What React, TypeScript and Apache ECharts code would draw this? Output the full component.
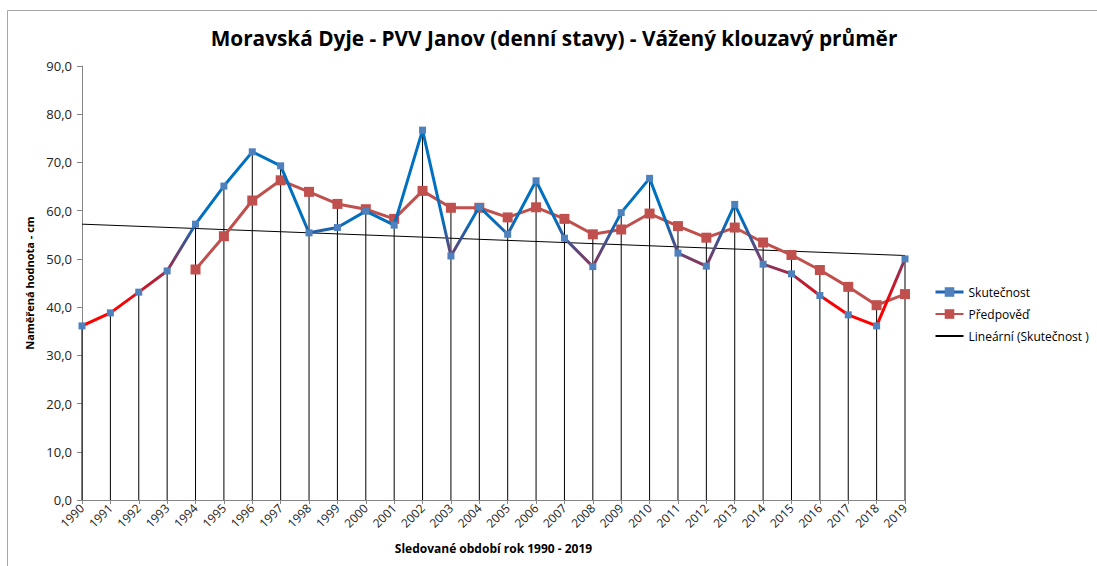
import React, { useEffect, useRef } from "react";
import * as echarts from "echarts";

const years = ["1990","1991","1992","1993","1994","1995","1996","1997","1998","1999","2000","2001","2002","2003","2004","2005","2006","2007","2008","2009","2010","2011","2012","2013","2014","2015","2016","2017","2018","2019"];
const actual = [36.1,38.8,43.1,47.5,57.2,65.1,72.2,69.3,55.4,56.5,59.9,57.0,76.7,50.6,60.8,55.1,66.2,54.3,48.4,59.6,66.7,51.2,48.5,61.3,48.9,46.9,42.4,38.4,36.1,50.0];
const forecast: (number | null)[] = [null,null,null,null,47.8,54.7,62.1,66.3,63.9,61.4,60.3,58.3,64.1,60.6,60.6,58.6,60.7,58.3,55.1,56.1,59.4,56.8,54.4,56.5,53.4,50.8,47.7,44.2,40.4,42.7];
const trendEnds = [57.2, 50.7];
const yTicks = { min: 0, max: 90, interval: 10 };

export default function App() {
  const ref = useRef<HTMLDivElement>(null);
  useEffect(() => {
    if (!ref.current) return;
    const chart = echarts.init(ref.current, null, { renderer: "svg" });
    const trend = years.map((_, i) => (i === 0 ? trendEnds[0] : i === years.length - 1 ? trendEnds[1] : null));
    const drops = years.map((_, i) => Math.max(actual[i], forecast[i] ?? -Infinity));
    const font = "Open Sans";
    chart.setOption({
      animation: false,
      textStyle: { fontFamily: font },
      graphic: [
        { type: "rect", shape: { x: 7.5, y: 10.5, width: 1200, height: 600 }, style: { fill: "none", stroke: "#a6a6a6", lineWidth: 1 }, silent: true },
        { type: "text", x: 554, y: 38, style: { text: "Moravská Dyje - PVV Janov (denní stavy) - Vážený klouzavý průměr", fontFamily: font, fontWeight: "bold", fontSize: 20.8, fill: "#000", textAlign: "center", textVerticalAlign: "middle" } },
      ],
      grid: { left: 82, right: 192, top: 66, bottom: 66 },
      legend: {
        orient: "vertical",
        left: 929,
        top: 281,
        itemGap: 10,
        itemWidth: 28,
        itemHeight: 12,
        textStyle: { fontFamily: font, fontSize: 12, color: "#000" },
        data: [
          { name: "Skutečnost", lineStyle: { color: "#1f64b4", width: 3 }, itemStyle: { color: "#4f81bd" } },
          { name: "Předpověď" },
          { name: "Lineární (Skutečnost )", itemStyle: { opacity: 0 } },
        ],
      },
      xAxis: {
        type: "category",
        data: years,
        boundaryGap: false,
        name: "Sledované období rok 1990 - 2019",
        nameLocation: "middle",
        nameGap: 42,
        nameTextStyle: { fontFamily: font, fontWeight: "bold", fontSize: 12, color: "#000" },
        axisLine: { lineStyle: { color: "#868686" } },
        axisTick: { show: true, length: 4, lineStyle: { color: "#868686" } },
        axisLabel: { rotate: 45, fontSize: 12, color: "#222", margin: 6, interval: 0 },
        splitLine: { show: false },
      },
      yAxis: {
        type: "value",
        min: yTicks.min,
        max: yTicks.max,
        interval: yTicks.interval,
        name: "Naměřená hodnota - cm",
        nameLocation: "middle",
        nameRotate: 90,
        nameGap: 44,
        nameTextStyle: { fontFamily: font, fontWeight: "bold", fontSize: 11, color: "#000" },
        axisLine: { show: true, lineStyle: { color: "#868686" } },
        axisTick: { show: true, length: 5, lineStyle: { color: "#868686" } },
        axisLabel: { fontSize: 13, color: "#222", margin: 10, formatter: (v: number) => v.toFixed(1).replace(".", ",") },
        splitLine: { show: false },
      },
      series: [
        {
          name: "drops",
          type: "bar",
          data: drops,
          barWidth: 1,
          itemStyle: { color: "#000" },
          silent: true,
          z: 1,
        },
        {
          name: "Lineární (Skutečnost )",
          type: "line",
          data: trend,
          connectNulls: true,
          showSymbol: false,
          symbol: "none",
          lineStyle: { color: "#000", width: 1 },
          itemStyle: { color: "#000" },
          z: 2,
        },
        {
          name: "Předpověď",
          type: "line",
          data: forecast,
          symbol: "rect",
          symbolSize: 10,
          lineStyle: { color: "#c0504d", width: 3 },
          itemStyle: { color: "#c0504d" },
          z: 3,
        },
        {
          name: "Skutečnost",
          type: "line",
          data: actual,
          symbol: "rect",
          symbolSize: 7,
          lineStyle: {
            width: 3,
            color: new echarts.graphic.LinearGradient(0, 0, 0, 1, [
              { offset: 0, color: "#0070c0" },
              { offset: 0.45, color: "#0070c0" },
              { offset: 0.9, color: "#ff0000" },
              { offset: 1, color: "#ff0000" },
            ]),
          },
          itemStyle: { color: "#4f81bd" },
          z: 4,
        },
      ],
    });
    return () => chart.dispose();
  }, []);
  return <div ref={ref} style={{ position: "fixed", left: 0, top: 0, width: 1097, height: 566, background: "#fff" }} />;
}
